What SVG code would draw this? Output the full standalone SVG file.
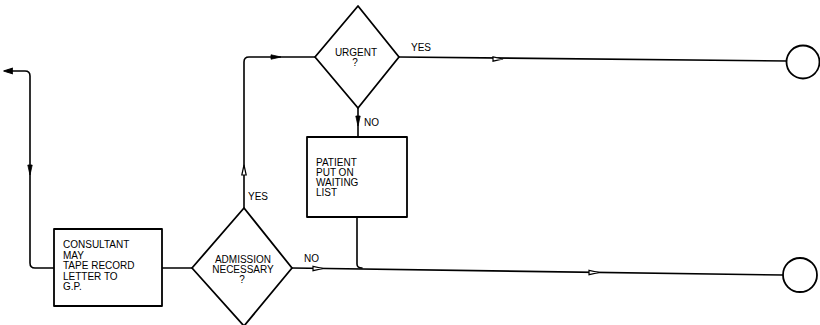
<svg xmlns="http://www.w3.org/2000/svg" width="820" height="325" viewBox="0 0 820 325">
<style>
.ln{fill:none;stroke:#000;stroke-width:1.6;stroke-linecap:round;stroke-linejoin:round}
.sh{fill:#fff;stroke:#000;stroke-width:1.8;stroke-linejoin:round}
.t{font-family:"Liberation Sans",Arial,sans-serif;font-size:10px;fill:#000}
.m{text-anchor:middle}
.ah{fill:#000;stroke:#000;stroke-width:0.8}
.ao{fill:#fff;stroke:#000;stroke-width:1.2}
</style>
<defs>
<path id="arr" d="M-5,-2.2 L5,0 L-5,2.2 Z"/>
</defs>
<rect width="820" height="325" fill="#fff"/>
<g id="connectors">
<path class="ln" d="M8,71 L25,71 Q30,71 30,76 L30,263 Q30,268 35,268 L54,268"/>
<path class="ln" d="M162,268 L192,268"/>
<path class="ln" d="M244,208 L244,62 Q244,57 249,57 L315,57"/>
<path class="ln" d="M399,57 L787,61"/>
<path class="ln" d="M358,108 L358,137"/>
<path class="ln" d="M357,217 L357,264 Q357,268 362,268"/>
<path class="ln" d="M292,268 L783,275"/>
<use href="#arr" class="ah" transform="translate(8,71) rotate(180) scale(0.9,1.3)"/>
<use href="#arr" class="ah" transform="translate(30,170) rotate(90)"/>
<use href="#arr" class="ao" transform="translate(244,170) rotate(-90)"/>
<use href="#arr" class="ah" transform="translate(276,57)"/>
<use href="#arr" class="ao" transform="translate(498,59)"/>
<use href="#arr" class="ah" transform="translate(358,121) rotate(90)"/>
<use href="#arr" class="ao" transform="translate(318,268.5)"/>
<use href="#arr" class="ao" transform="translate(594,272.5)"/>
<text class="t" x="248" y="200">YES</text>
<text class="t" x="411" y="51">YES</text>
<text class="t" x="364" y="126">NO</text>
<text class="t" x="304" y="262">NO</text>
</g>
<g id="consultant">
<rect class="sh" x="54" y="229" width="108" height="77"/>
<text class="t" x="63" y="248">CONSULTANT</text>
<text class="t" x="63" y="258.5">MAY</text>
<text class="t" x="63" y="269">TAPE RECORD</text>
<text class="t" x="63" y="279.5">LETTER TO</text>
<text class="t" x="63" y="290">G.P.</text>
</g>
<g id="admission">
<polygon class="sh" points="192,268 244,208 292,268 244,326"/>
<text class="t m" x="243" y="263">ADMISSION</text>
<text class="t m" x="243" y="273">NECESSARY</text>
<text class="t m" x="242" y="283">?</text>
</g>
<g id="urgent">
<polygon class="sh" points="315,57 358,6 399,57 358,108"/>
<text class="t m" x="356" y="56">URGENT</text>
<text class="t m" x="355" y="66">?</text>
</g>
<g id="waiting">
<rect class="sh" x="307" y="137" width="100" height="80"/>
<text class="t" x="316" y="166">PATIENT</text>
<text class="t" x="316" y="176">PUT ON</text>
<text class="t" x="316" y="186">WAITING</text>
<text class="t" x="316" y="196">LIST</text>
</g>
<g id="end-yes">
<circle class="sh" cx="803" cy="62" r="16.5"/>
</g>
<g id="end-no">
<circle class="sh" cx="800" cy="275" r="17"/>
</g>
</svg>
